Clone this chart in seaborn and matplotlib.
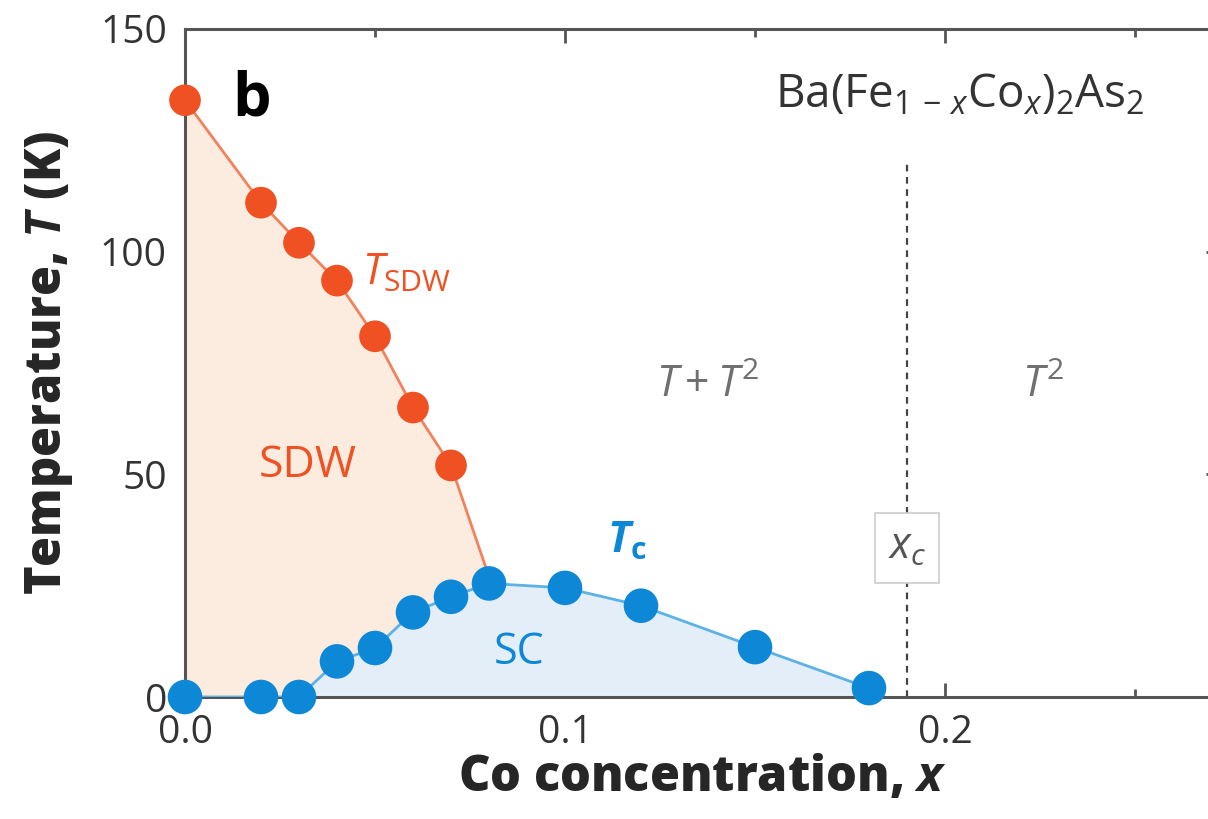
"""
Phase diagram of Ba(Fe1-xCox)2As2: SDW and superconducting domes.
"""

import numpy as np
import pandas as pd
import seaborn as sns
import matplotlib.pyplot as plt
from matplotlib.ticker import MultipleLocator

# ----------------------------------------------------------------------------
# DATA
# ----------------------------------------------------------------------------
sdw_x = [0.0, 0.02, 0.03, 0.04, 0.05, 0.06, 0.07]
sdw_T = [134, 111, 102, 93.5, 81, 65, 52]
# SDW line runs on to where it meets the Tc dome
sdw_end_x = 0.08
sdw_end_T = 27

tc_x = [0.0, 0.02, 0.03, 0.04, 0.05, 0.06, 0.07, 0.08, 0.10, 0.12, 0.15, 0.18]
tc_T = [0, 0, 0, 8, 11, 19, 22.5, 25.5, 24.5, 20.5, 11.2, 2]

x_c = 0.19

# colours
ORANGE = '#EF5123'
ORANGE_LINE = '#F2825C'
ORANGE_FILL = '#FCEBDF'
BLUE = '#0D88D6'
BLUE_LINE = '#5DB2E5'
BLUE_FILL = '#E3EEF8'
GREY_TEXT = '#707070'
AXIS_GREY = '#555555'

# ----------------------------------------------------------------------------
# STYLE
# ----------------------------------------------------------------------------
sns.set_theme(style="ticks")
plt.rcParams.update({
    'font.family': ['Open Sans', 'DejaVu Sans'],
    'mathtext.fontset': 'custom',
    'mathtext.rm': 'Open Sans',
    'mathtext.it': 'Open Sans:italic',
    'mathtext.bf': 'Open Sans:bold',
    'mathtext.bfit': 'Open Sans:italic:bold',
    'axes.edgecolor': AXIS_GREY,
    'axes.linewidth': 2.2,
})

sdw_df = pd.DataFrame({'x': sdw_x + [sdw_end_x], 'T': sdw_T + [sdw_end_T]})
tc_df = pd.DataFrame({'x': tc_x, 'T': tc_T})

fig = plt.figure(figsize=(12.08, 8.19), dpi=100)
# right spine sits just past the image edge, as in the original crop
ax = fig.add_axes([185 / 1208, 122 / 819, 1035 / 1208, 668 / 819])

# filled phase regions
ax.fill_between(sdw_df['x'], 0, sdw_df['T'], color=ORANGE_FILL, lw=0, zorder=1)
ax.fill_between(tc_df['x'], 0, tc_df['T'], color=BLUE_FILL, lw=0, zorder=2)

# lines
sns.lineplot(data=sdw_df, x='x', y='T', sort=False, color=ORANGE_LINE,
             lw=2, ax=ax, zorder=3)
sns.lineplot(data=tc_df, x='x', y='T', sort=False, color=BLUE_LINE,
             lw=2, ax=ax, zorder=3)

# points
sns.scatterplot(x=sdw_x, y=sdw_T, color=ORANGE, s=520, edgecolor='none',
                ax=ax, zorder=5, clip_on=False)
sns.scatterplot(x=tc_x, y=tc_T, color=BLUE, s=620, edgecolor='none',
                ax=ax, zorder=6, clip_on=False)

# critical concentration
ax.vlines(x_c, 0, 120, colors='#444444', linestyles=(0, (3, 2.5)), lw=1.6,
          zorder=2)
ax.text(x_c, 33.5, r'$x_c$', color='#555555', fontsize=31, ha='center',
        va='center', zorder=7,
        bbox=dict(boxstyle='square,pad=0.3', fc='white', ec='#CCCCCC', lw=1.2))

# labels in the plot
ax.text(0.0125, 134, 'b', fontsize=44, fontweight='bold', color='black',
        ha='left', va='center')
ax.text(0.1553, 135, r'Ba(Fe$_{1\,-\,x}$Co$_x$)$_2$As$_2$', fontsize=33,
        color='#333333', ha='left', va='center')
ax.text(0.0465, 95, r'$T_{\mathrm{SDW}}$', fontsize=31, color=ORANGE,
        ha='left', va='center')
ax.text(0.0322, 52, 'SDW', fontsize=32, color=ORANGE, ha='center',
        va='center')
ax.text(0.088, 10, 'SC', fontsize=31, color=BLUE, ha='center', va='center')
ax.text(0.111, 35, r'$\mathbfit{T}_{\mathbf{c}}$', fontsize=31, color=BLUE,
        ha='left', va='center')
ax.text(0.1376, 70, r'$T + T^2$', fontsize=31, color=GREY_TEXT,
        ha='center', va='center')
ax.text(0.2258, 70, r'$T^2$', fontsize=31, color=GREY_TEXT,
        ha='center', va='center')

# axes
ax.set_xlim(0, 1035 / 3800)
ax.set_ylim(0, 150)
ax.xaxis.set_major_locator(MultipleLocator(0.1))
ax.xaxis.set_minor_locator(MultipleLocator(0.05))
ax.yaxis.set_major_locator(MultipleLocator(50))
ax.yaxis.set_minor_locator(MultipleLocator(25))
ax.xaxis.set_major_formatter(lambda v, p: f'{v:.1f}')
ax.tick_params(which='both', direction='in', top=True, right=True,
               color=AXIS_GREY, labelcolor='#333333', labelsize=28)
ax.tick_params(which='major', length=10, width=2)
ax.tick_params(which='minor', length=6, width=2)
ax.tick_params(axis='x', pad=12)
ax.tick_params(axis='y', pad=13)

ax.set_xlabel(r'Co concentration, $\mathbfit{x}$', fontsize=35,
              fontweight='heavy', labelpad=1)
ax.set_ylabel(r'Temperature, $\mathbfit{T}$ (K)', fontsize=35,
              fontweight='heavy', labelpad=18)

fig.savefig('out.png', dpi=100)
plt.close(fig)
